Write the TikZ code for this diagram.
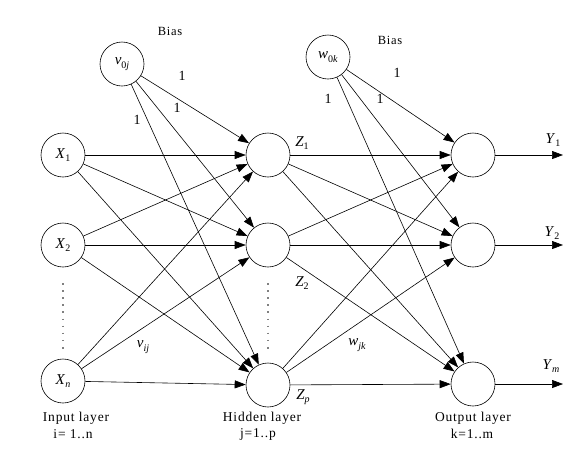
\documentclass[tikz,border=0pt]{standalone}
\usepackage{fontspec}
\setmainfont{Liberation Serif}
\usetikzlibrary{arrows.meta}
\newcommand\sbs[1]{\raisebox{-0.5ex}{\fontsize{10}{11}\selectfont #1}}
\begin{document}
\begin{tikzpicture}[x=1pt,y=-1pt,
  neuron/.style={circle,draw,minimum size=44pt,inner sep=0pt,line width=0.6pt,font=\fontsize{15}{17}\selectfont},
  arr/.style={-{Triangle[length=11pt,width=8pt]},line width=0.6pt},
  txt/.style={font=\fontsize{13.5}{15}\selectfont\addfontfeature{LetterSpace=6},inner sep=0pt},
  bias/.style={font=\fontsize{12.5}{14}\selectfont\addfontfeature{LetterSpace=6},inner sep=0pt},
  one/.style={font=\fontsize{14}{16}\selectfont,inner sep=0pt},
  lbl/.style={font=\fontsize{15}{17}\selectfont,inner sep=0pt},
  dotline/.style={gray,line width=1.6pt,dash pattern=on 1.6pt off 5.5pt}]
\useasboundingbox (0,0) rectangle (578,459);
% nodes
\node[neuron] (X1) at (63,155) {\textit{X}\sbs{1}};
\node[neuron] (X2) at (63,245) {\textit{X}\sbs{2}};
\node[neuron] (Xn) at (63,381) {\textit{X}\sbs{\textit{n}}};
\node[neuron] (Z1) at (268,155) {};
\node[neuron] (Z2) at (268,245) {};
\node[neuron] (Zp) at (268,385) {};
\node[neuron] (Y1) at (473,155) {};
\node[neuron] (Y2) at (473,245) {};
\node[neuron] (Ym) at (473,384) {};
\node[neuron] (V) at (122,64) {\textit{v}\sbs{0\textit{j}}};
\node[neuron] (W) at (328,57) {\textit{w}\sbs{0\textit{k}}};
% connections
\foreach \i in {X1,X2,Xn}{\foreach \j in {Z1,Z2,Zp}{\draw[arr] (\i) -- (\j);}}
\foreach \j in {Z1,Z2,Zp}{\draw[arr] (V) -- (\j);}
\foreach \i in {Z1,Z2,Zp}{\foreach \j in {Y1,Y2,Ym}{\draw[arr] (\i) -- (\j);}}
\foreach \j in {Y1,Y2,Ym}{\draw[arr] (W) -- (\j);}
\coordinate (o1) at (563,155);
\coordinate (o2) at (563,245);
\coordinate (o3) at (563,384);
\draw[arr] (Y1) -- (o1);
\draw[arr] (Y2) -- (o2);
\draw[arr] (Ym) -- (o3);
% dotted
\draw[dotline] (63,283) -- (63,352);
\draw[dotline] (268,283) -- (268,352);
% labels
\node[bias] (b1) at (170,31) {Bias};
\node[bias] (b2) at (390,40) {Bias};
\node[one] (l1) at (182,76) {1};
\node[one] (l2) at (177,108) {1};
\node[one] (l3) at (137,120) {1};
\node[one] (l4) at (397,73) {1};
\node[one] (l5) at (380,99) {1};
\node[one] (l6) at (328,99) {1};
\node[lbl] (zl1) at (302,143) {\textit{Z}\sbs{1}};
\node[lbl] (zl2) at (302,283) {\textit{Z}\sbs{2}};
\node[lbl] (zl3) at (303,397) {\textit{Z}\sbs{\textit{p}}};
\node[lbl] (yl1) at (553,140) {\textit{Y}\sbs{1}};
\node[lbl] (yl2) at (552,233) {\textit{Y}\sbs{2}};
\node[lbl] (yl3) at (551,366) {\textit{Y}\sbs{\textit{m}}};
\node[lbl] (vij) at (143,347) {\textit{v}\sbs{\textit{ij}}};
\node[lbl] (wjk) at (357,345) {\textit{w}\sbs{\textit{jk}}};
\node[txt] (t1) at (76,418) {Input layer};
\node[txt] (t2) at (73,434) {i= 1..n};
\node[txt] (t3) at (262,418) {Hidden layer};
\node[txt] (t4) at (258,434) {j=1..p};
\node[txt] (t5) at (473,418) {Output layer};
\node[txt] (t6) at (472,434) {k=1..m};
\end{tikzpicture}
\end{document}
